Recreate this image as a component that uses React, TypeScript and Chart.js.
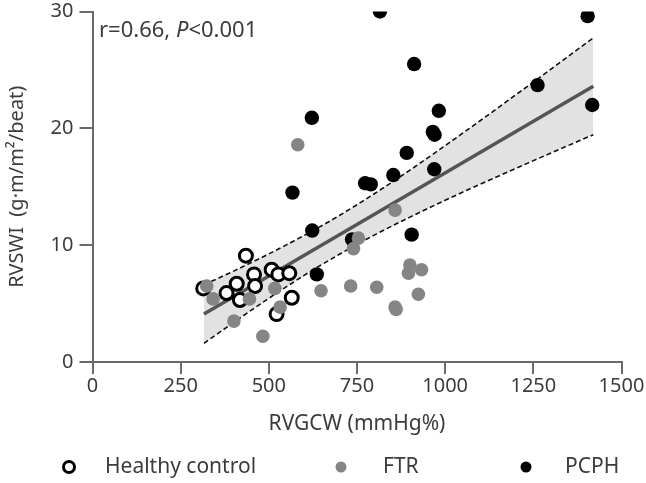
import React, { useEffect, useRef } from 'react';
import { Chart, registerables } from 'chart.js';

Chart.register(...registerables);

// ---- data ----
const seriesNames = ['Healthy control', 'FTR', 'PCPH'];

const healthyX = [435, 314, 380, 409, 418, 458, 461, 508, 527, 558, 565, 522];
const healthyY = [9.1, 6.3, 5.9, 6.7, 5.3, 7.5, 6.5, 7.9, 7.5, 7.6, 5.5, 4.1];

const ftrX = [324, 342, 401, 483, 445, 517, 532, 582, 648, 732, 740, 754, 806, 858, 858, 861, 900, 896, 933, 924];
const ftrY = [6.5, 5.4, 3.5, 2.2, 5.4, 6.3, 4.7, 18.6, 6.1, 6.5, 9.7, 10.6, 6.4, 13.0, 4.7, 4.5, 8.3, 7.6, 7.9, 5.8];

const pcphX = [815, 1404, 912, 1262, 1417, 982, 622, 965, 970, 891, 969, 853, 773, 789, 567, 623, 905, 636, 736];
const pcphY = [30.0, 29.6, 25.5, 23.7, 22.0, 21.5, 20.9, 19.7, 19.45, 17.9, 16.5, 16.0, 15.3, 15.2, 14.5, 11.25, 10.9, 7.5, 10.5];

const fitX = [316, 1420];
const fitY = [4.1, 23.6];

const bandX = [316, 400, 500, 600, 700, 800, 900, 1000, 1100, 1200, 1300, 1420];
const bandUpper = [6.6, 7.78, 9.25, 10.83, 12.54, 14.42, 16.42, 18.52, 20.67, 22.86, 25.07, 27.75];
const bandLower = [1.6, 3.38, 5.45, 7.41, 9.22, 10.88, 12.4, 13.84, 15.23, 16.56, 17.89, 19.45];

const xTicks = [0, 250, 500, 750, 1000, 1250, 1500];
const yTicks = [0, 10, 20, 30];

const xTitle = 'RVGCW (mmHg%)';
const yTitle = 'RVSWI  (g\u00b7m/m\u00b2/beat)';
const statParts = ['r=0.66, ', 'P', '<0.001'];

const FONT = '"Noto Sans", sans-serif';
const FS = 21;
const TICK_FS = 20;
const TEXT = '#3c3c3c';

const pts = (xs: number[], ys: number[]) => xs.map((x, i) => ({ x, y: ys[i] }));

const overlayPlugin = {
  id: 'overlay',
  afterDraw(chart: any) {
    const ctx = chart.ctx as CanvasRenderingContext2D;
    ctx.save();
    // correlation text
    ctx.fillStyle = TEXT;
    ctx.textBaseline = 'middle';
    ctx.textAlign = 'left';
    let x = 99;
    const ty = 31;
    const afs = 22;
    ctx.font = `${afs}px ${FONT}`;
    ctx.fillText(statParts[0], x, ty);
    x += ctx.measureText(statParts[0]).width;
    ctx.font = `italic ${afs}px ${FONT}`;
    ctx.fillText(statParts[1], x, ty);
    x += ctx.measureText(statParts[1]).width;
    ctx.font = `${afs}px ${FONT}`;
    ctx.fillText(statParts[2], x, ty);

    // legend
    const ly = 467;
    const markers = [
      { mx: 69, tx: 105, ds: 3 },
      { mx: 341, tx: 383, ds: 4 },
      { mx: 526, tx: 565, ds: 5 },
    ];
    markers.forEach((m, i) => {
      const d = chart.data.datasets[m.ds];
      ctx.beginPath();
      ctx.arc(m.mx, ly, 5.5, 0, Math.PI * 2);
      ctx.fillStyle = d.pointBackgroundColor;
      ctx.fill();
      if (i === 0) {
        ctx.lineWidth = 3;
        ctx.strokeStyle = d.pointBorderColor;
        ctx.stroke();
      }
      ctx.fillStyle = TEXT;
      ctx.font = `${FS}px ${FONT}`;
      ctx.textBaseline = 'middle';
      ctx.fillText(seriesNames[i], m.tx, ly);
    });
    ctx.restore();
  },
};

export default function App() {
  const ref = useRef<HTMLCanvasElement | null>(null);

  useEffect(() => {
    if (!ref.current) return;
    const chart = new Chart(ref.current, {
      type: 'scatter',
      data: {
        datasets: [
          {
            type: 'line',
            label: 'upper',
            data: pts(bandX, bandUpper),
            borderColor: '#111',
            borderWidth: 1.6,
            borderDash: [5, 3],
            pointRadius: 0,
            cubicInterpolationMode: 'monotone',
            fill: '+1',
            backgroundColor: '#e2e2e2',
            order: 10,
          } as any,
          {
            type: 'line',
            label: 'lower',
            data: pts(bandX, bandLower),
            borderColor: '#111',
            borderWidth: 1.6,
            borderDash: [5, 3],
            pointRadius: 0,
            cubicInterpolationMode: 'monotone',
            fill: false,
            order: 9,
          } as any,
          {
            type: 'line',
            label: 'fit',
            data: pts(fitX, fitY),
            borderColor: '#555555',
            borderWidth: 3.5,
            pointRadius: 0,
            fill: false,
            order: 8,
          } as any,
          {
            label: seriesNames[0],
            data: pts(healthyX, healthyY),
            pointRadius: 6.5,
            pointBorderWidth: 3,
            pointBackgroundColor: '#ffffff',
            pointBorderColor: '#000000',
            order: 3,
          } as any,
          {
            label: seriesNames[1],
            data: pts(ftrX, ftrY),
            pointRadius: 6.8,
            pointBorderWidth: 0,
            pointBackgroundColor: '#858585',
            pointBorderColor: '#858585',
            order: 1,
          } as any,
          {
            label: seriesNames[2],
            data: pts(pcphX, pcphY),
            pointRadius: 7.2,
            pointBorderWidth: 0,
            pointBackgroundColor: '#000000',
            pointBorderColor: '#000000',
            order: 2,
          } as any,
        ],
      },
      options: {
        responsive: false,
        animation: false,
        devicePixelRatio: 1,
        layout: { padding: { top: 11.5, right: 24.5, bottom: 46, left: 0 } },
        plugins: {
          legend: { display: false },
          tooltip: { enabled: false },
        },
        scales: {
          x: {
            type: 'linear',
            min: xTicks[0],
            max: xTicks[xTicks.length - 1],
            afterBuildTicks: (s: any) => {
              s.ticks = xTicks.map((v) => ({ value: v }));
            },
            afterFit: (s: any) => {
              s.height = 483 - 46 - 362;
              s.paddingLeft = 0;
              s.paddingRight = 0;
            },
            ticks: {
              color: TEXT,
              font: { family: FONT, size: TICK_FS },
              padding: 0,
              maxRotation: 0,
              autoSkip: false,
              callback: (v: any) => String(v),
            },
            grid: {
              drawOnChartArea: false,
              drawTicks: true,
              tickLength: 12,
              color: '#6a6a6a',
              lineWidth: 2,
            },
            border: { display: true, color: '#6a6a6a', width: 2 },
            title: {
              display: true,
              text: xTitle,
              color: TEXT,
              font: { family: FONT, size: FS },
              padding: { top: 0, bottom: 0 },
            },
          },
          y: {
            type: 'linear',
            min: yTicks[0],
            max: yTicks[yTicks.length - 1],
            afterBuildTicks: (s: any) => {
              s.ticks = yTicks.map((v) => ({ value: v }));
            },
            afterFit: (s: any) => {
              s.width = 92.5;
              s.paddingTop = 0;
              s.paddingBottom = 0;
            },
            ticks: {
              color: TEXT,
              font: { family: FONT, size: TICK_FS },
              padding: 6,
              callback: (v: any) => String(v),
            },
            grid: {
              drawOnChartArea: false,
              drawTicks: true,
              tickLength: 13,
              color: '#6a6a6a',
              lineWidth: 2,
            },
            border: { display: true, color: '#6a6a6a', width: 2 },
            title: {
              display: true,
              text: yTitle,
              color: TEXT,
              font: { family: FONT, size: 20 },
              padding: { top: 5, bottom: 0 },
            },
          },
        },
      } as any,
      plugins: [overlayPlugin],
    });
    return () => chart.destroy();
  }, []);

  return (
    <canvas
      ref={ref}
      width={646}
      height={483}
      style={{ position: 'absolute', left: 0, top: 0, display: 'block', background: '#fff' }}
    />
  );
}
